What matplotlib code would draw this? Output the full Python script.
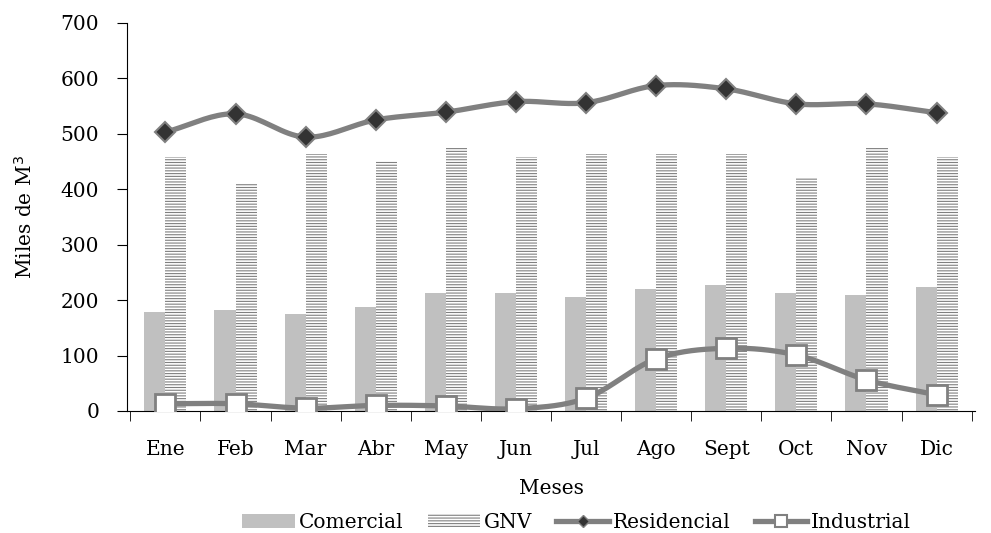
import numpy as np
import matplotlib
matplotlib.use('Agg')
from matplotlib import pyplot as plt

meses = ['Ene', 'Feb', 'Mar', 'Abr', 'May', 'Jun', 'Jul', 'Ago', 'Sept', 'Oct', 'Nov', 'Dic']
comercial = [178, 182, 175, 188, 213, 213, 206, 220, 227, 213, 209, 224]
gnv = [458, 411, 464, 451, 475, 458, 464, 464, 464, 420, 475, 458]
residencial = [503, 536, 494, 525, 539, 558, 556, 587, 581, 554, 554, 538]
industrial = [13, 13, 5, 10, 9, 4, 23, 94, 113, 101, 56, 29]


def smooth(x, y, n=20):
    # Catmull-Rom curve through the points (Excel-like smoothed line)
    x = np.asarray(x, float)
    y = np.asarray(y, float)
    px = np.concatenate([[2 * x[0] - x[1]], x, [2 * x[-1] - x[-2]]])
    py = np.concatenate([[2 * y[0] - y[1]], y, [2 * y[-1] - y[-2]]])
    xs, ys = [], []
    t = np.linspace(0, 1, n, endpoint=False)
    for i in range(1, len(px) - 2):
        for p, out in ((px, xs), (py, ys)):
            p0, p1, p2, p3 = p[i - 1], p[i], p[i + 1], p[i + 2]
            out.extend(0.5 * (2 * p1 + (-p0 + p2) * t
                              + (2 * p0 - 5 * p1 + 4 * p2 - p3) * t ** 2
                              + (-p0 + 3 * p1 - 3 * p2 + p3) * t ** 3))
    xs.append(x[-1])
    ys.append(y[-1])
    return xs, ys


plt.rcParams['font.family'] = ['DejaVu Serif']
plt.rcParams['hatch.color'] = '#808080'
plt.rcParams['hatch.linewidth'] = 0.8
fs = 14.5

fig = plt.figure(figsize=(9.91, 5.33), dpi=100)
ax = fig.add_axes([0.128, 0.229, 0.856, 0.728])

x = np.arange(len(meses))
w = 0.3
b1 = ax.bar(x - w / 2, comercial, w, color='#c0c0c0')
b2 = ax.bar(x + w / 2, gnv, w, color='white', hatch='------', edgecolor='#808080',
            linewidth=0)

sx, sy = smooth(x, residencial)
ax.plot(sx, sy, color='#808080', lw=3.8, zorder=3)
ax.plot(x, residencial, ls='none', marker='D', ms=10, mfc='#333333', mec='#808080',
        mew=1.5, zorder=4)
sx, sy = smooth(x, industrial)
ax.plot(sx, sy, color='#808080', lw=3.8, zorder=3)
ax.plot(x, industrial, ls='none', marker='s', ms=14.5, mfc='white', mec='#808080',
        mew=2, zorder=4)

# legend proxies
h3, = ax.plot([], [], color='#808080', lw=3.8, marker='D', ms=6, mfc='#333333',
              mec='#808080')
h4, = ax.plot([], [], color='#808080', lw=3.8, marker='s', ms=8, mfc='white',
              mec='#808080', mew=1.5)

ax.set_ylim(0, 700)
ax.set_xlim(-0.55, 11.55)
ax.set_yticks(range(0, 701, 100))
ax.set_xticks(x)
ax.set_xticklabels(meses)
ax.set_xticks(np.arange(-0.5, 12, 1), minor=True)
ax.tick_params(axis='x', which='major', length=0, pad=21, labelsize=fs)
ax.tick_params(axis='x', which='minor', length=7, direction='out')
ax.tick_params(axis='y', length=7, direction='out', labelsize=fs, pad=13)
for s in ('top', 'right'):
    ax.spines[s].set_visible(False)
ax.set_xlabel('Meses', fontsize=fs, labelpad=14)
ax.set_ylabel('Miles de M$^3$', fontsize=fs, labelpad=18)

fig.legend([b1, b2, h3, h4], ['Comercial', 'GNV', 'Residencial', 'Industrial'],
           loc='center', bbox_to_anchor=(0.582, 0.02), ncol=4, frameon=False,
           fontsize=fs, handlelength=2.6, handletextpad=0.2, columnspacing=1.2,
           borderpad=0)

fig.savefig('out.png', dpi=100)
